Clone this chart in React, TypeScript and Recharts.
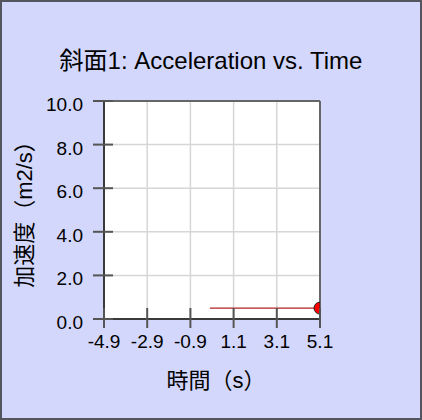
import React from "react";
import {
  ComposedChart,
  Line,
  Scatter,
  XAxis,
  YAxis,
  CartesianGrid,
  ReferenceLine,
  Label,
} from "recharts";

const timeTicks = [-4.9, -2.9, -0.9, 1.1, 3.1, 5.1];
const accelTicks = [0, 2, 4, 6, 8, 10];
const lineTimes = [0, 5.1];
const lineAccel = [0.5, 0.5];
const currentPoint = [{ t: 5.1, a: 0.5 }];

const FONT = '"Liberation Sans", Arial, "Noto Sans CJK JP", sans-serif';
const AXIS = "#3a3a3a";

const X_TS = 9;
const X_TM = 4;
const Y_TS = 11;
const Y_TM = 10;

const lineData = lineTimes.map((t, i) => ({ t, a: lineAccel[i] }));

const XTick = (props: any) => {
  const { x, y, payload } = props;
  const axisY = y - X_TS - X_TM;
  return (
    <g>
      <line x1={x} x2={x} y1={axisY - 11} y2={axisY + 9} stroke="#555" strokeWidth={2} />
      <text x={x} y={axisY + 29} textAnchor="middle" fontSize={19} fontFamily={FONT} fill="#000">
        {payload.value.toFixed(1)}
      </text>
    </g>
  );
};

const YTick = (props: any) => {
  const { x, y, payload } = props;
  const axisX = x + Y_TS + Y_TM;
  return (
    <g>
      <line x1={axisX - 11} x2={axisX + 9} y1={y} y2={y} stroke="#555" strokeWidth={2} />
      <text x={axisX - 21} y={y + 10} textAnchor="end" fontSize={19} fontFamily={FONT} fill="#000">
        {payload.value.toFixed(1)}
      </text>
    </g>
  );
};

// the point sits on the right edge of the plot, so only its left half shows
const EdgeDot = (p: any) => {
  const r = 6;
  return (
    <path
      d={`M ${p.cx} ${p.cy - r} A ${r} ${r} 0 0 0 ${p.cx} ${p.cy + r} Z`}
      fill="#ff0000"
      stroke="#222"
      strokeWidth={1}
    />
  );
};

export default function App() {
  return (
    <div
      style={{
        position: "absolute",
        left: 0,
        top: 0,
        width: 422,
        height: 420,
        background: "#d3d7fc",
        fontFamily: FONT,
      }}
    >
      <div
        style={{
          position: "absolute",
          left: 0,
          top: 46,
          width: 422,
          textAlign: "center",
          fontSize: 24,
          lineHeight: "30px",
          color: "#000",
        }}
      >
        斜面1: Acceleration vs. Time
      </div>
      <ComposedChart
        width={422}
        height={420}
        data={lineData}
        margin={{ top: 101, right: 102, bottom: 31, left: 60 }}
        style={{ position: "absolute", left: 0, top: 0 }}
      >
        <CartesianGrid
          stroke="#d6d6d6"
          strokeWidth={1.5}
          fill="#ffffff"
          horizontalValues={accelTicks}
          verticalValues={timeTicks}
        />
        <XAxis
          dataKey="t"
          type="number"
          domain={[-4.9, 5.1]}
          ticks={timeTicks}
          allowDataOverflow
          height={70}
          tickSize={X_TS}
          tickMargin={X_TM}
          tickLine={false}
          tick={<XTick />}
          axisLine={{ stroke: AXIS, strokeWidth: 2 }}
          interval={0}
        >
          <Label
            content={({ viewBox }: any) => (
              <text
                x={viewBox.x + viewBox.width / 2 + 4}
                y={viewBox.y + 69}
                textAnchor="middle"
                fontSize={22}
                fontFamily={FONT}
                fill="#000"
              >
                時間（s）
              </text>
            )}
          />
        </XAxis>
        <YAxis
          type="number"
          domain={[0, 10]}
          ticks={accelTicks}
          allowDataOverflow
          width={44}
          tickSize={Y_TS}
          tickMargin={Y_TM}
          tickLine={false}
          tick={<YTick />}
          axisLine={{ stroke: AXIS, strokeWidth: 2 }}
          interval={0}
        >
          <Label
            content={({ viewBox }: any) => {
              const cx = viewBox.x - 36;
              const cy = viewBox.y + viewBox.height / 2 - 1;
              return (
                <text
                  x={cx}
                  y={cy}
                  transform={`rotate(-90 ${cx} ${cy})`}
                  textAnchor="middle"
                  dominantBaseline="central"
                  fontSize={22}
                  fontFamily={FONT}
                  fill="#000"
                >
                  加速度（m2/s）
                </text>
              );
            }}
          />
        </YAxis>
        <Line
          dataKey="a"
          stroke="#b22222"
          strokeWidth={1.2}
          dot={false}
          activeDot={false}
          isAnimationActive={false}
        />
        <Scatter
          data={currentPoint}
          dataKey="a"
          isAnimationActive={false}
          shape={EdgeDot}
        />
        <ReferenceLine y={10} stroke="#666" strokeWidth={2} />
        <ReferenceLine x={5.1} stroke="#666" strokeWidth={2} />
      </ComposedChart>
      <div
        style={{
          position: "absolute",
          left: 0,
          top: 0,
          width: 422,
          height: 420,
          boxSizing: "border-box",
          border: "2px solid #55555f",
          pointerEvents: "none",
        }}
      />
    </div>
  );
}
